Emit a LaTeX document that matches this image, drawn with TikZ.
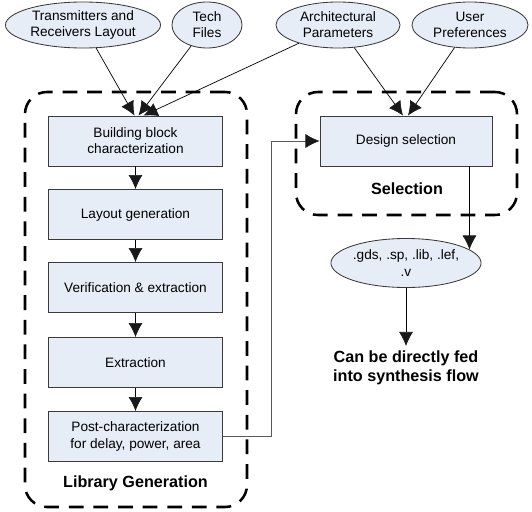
\documentclass[tikz,border=0pt]{standalone}
\usepackage{fontspec}
\setmainfont{Liberation Sans}
\usetikzlibrary{arrows.meta,shapes.geometric,positioning,fit,calc}

\definecolor{boxfill}{HTML}{E6EDF7}
\definecolor{boxline}{HTML}{3A3A3A}

\tikzset{
  block/.style={rectangle,draw=boxline,fill=boxfill,line width=0.6pt,
    minimum width=4.33cm,minimum height=1.25cm,align=center,inner sep=1pt},
  infile/.style={ellipse,draw=boxline,fill=boxfill,line width=0.6pt,
    align=center,inner sep=0pt,minimum height=1.15cm},
  group/.style={draw,line width=1.8pt,dash pattern=on 10.5pt off 7pt,
    rounded corners=0.55cm,inner sep=0pt},
  tag/.style={font=\bfseries\fontsize{11.5}{13.5}\selectfont,align=center},
  arr/.style={-{Latex[length=10pt,width=10pt,color=black!90]},line width=0.5pt},
  link/.style={arr,draw=gray!70!black},
}

\begin{document}
\begin{tikzpicture}[x=0.025cm,y=-0.025cm,font=\fontsize{9.7}{11.5}\selectfont]
\useasboundingbox (0,0) rectangle (532,512);

% Inputs
\node[infile,minimum width=3.875cm] (tx) at (83,25) {Transmitters and\\Receivers Layout};
\node[infile,minimum width=1.75cm] (tech) at (207,25) {Tech\\Files};
\node[infile,minimum width=3.1cm] (arch) at (338,25) {Architectural\\Parameters};
\node[infile,minimum width=2.9cm] (user) at (470,25) {User\\Preferences};

% Library generation
\node[block] (b1) at (135.5,141) {Building block\\characterization};
\node[block] (b2) at (135.5,214.5) {Layout generation};
\node[block] (b3) at (135.5,287.5) {Verification \& extraction};
\node[block] (b4) at (135.5,362.5) {Extraction};
\node[block] (b5) at (135.5,436.5) {Post-characterization\\for delay, power, area};
\node[tag] (libl) at (135.5,483) {Library Generation};
\node[group,fit={(25,92) (247,507)}] (libgrp) {};

% Selection
\node[block,minimum width=4.3cm] (ds) at (406,141) {Design selection};
\node[tag] (sell) at (407,189) {Selection};
\node[group,fit={(296,92) (517,215)}] (selgrp) {};

% Outputs
\node[infile,minimum width=3.7cm,minimum height=1.225cm] (out) at (406,263) {.gds, .sp, .lib, .lef,\\.v};
\node[tag] (note) at (406,368) {Can be directly fed\\into synthesis flow};

% Connectors
\draw[arr] (tx) -- ($(b1.north)+(-1,0)$);
\draw[arr] (tech) -- ($(b1.north)+(3,0)$);
\draw[arr] (arch) -- ($(b1.north)+(8,0)$);
\draw[arr] (arch) -- ($(ds.north)+(-3,0)$);
\draw[arr] (user) -- ($(ds.north)+(2,0)$);
\foreach \a/\b in {b1/b2,b2/b3,b3/b4,b4/b5}
  \draw[arr] (\a) -- (\b);
\draw[link] (b5.east) -- ++(49,0) |- (ds.west);
\draw[arr] (ds.south -| out.12) -- (out.12);
\draw[arr] (out) -- (note);
\end{tikzpicture}
\end{document}
